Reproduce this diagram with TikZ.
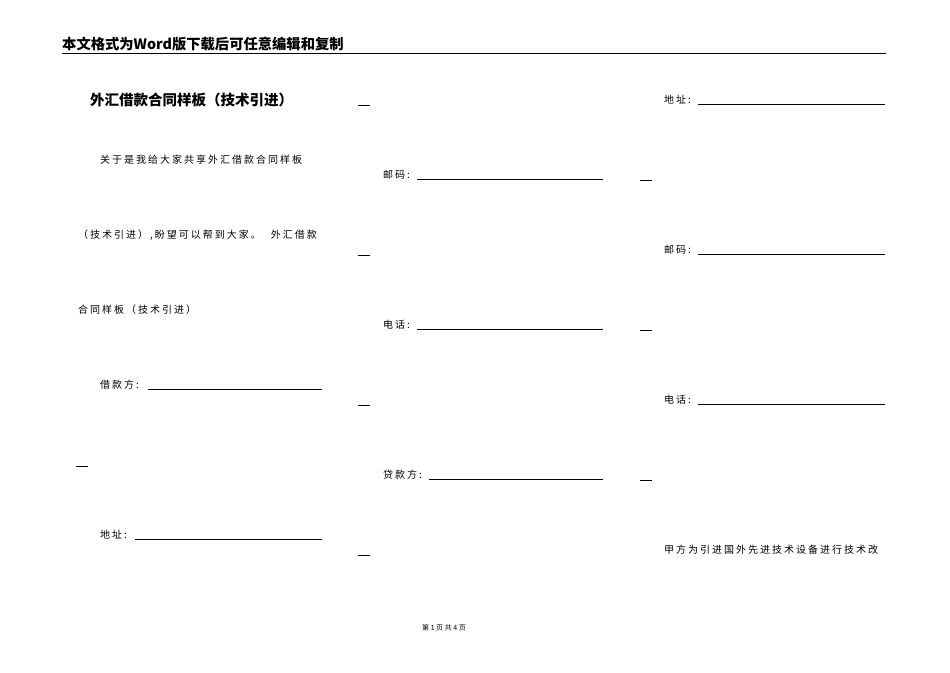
\documentclass[tikz,border=0pt]{standalone}
\usepackage{fontspec}
\newfontfamily\cjk{Noto Sans CJK SC}
\newfontfamily\cjksp[LetterSpace=20]{Noto Sans CJK SC}
\begin{document}
\begin{tikzpicture}[x=1pt,y=-1pt,
  txt/.style={anchor=west,inner sep=0pt,font=\cjksp\fontsize{10}{12}\selectfont},
  uline/.style={line width=0.6pt},
  shortdash/.style={line width=0.6pt}]
\useasboundingbox (0,0) rectangle (950,672);
\node[anchor=west,inner sep=0pt,font=\cjk\bfseries\fontsize{14.3}{16}\selectfont] (hd) at (62,44) {本文格式为Word版下载后可任意编辑和复制};
\draw[line width=0.8pt] (62,53) -- (886,53);
\node[anchor=west,inner sep=0pt,font=\cjk\bfseries\fontsize{14.5}{16}\selectfont] (t) at (90,100) {外汇借款合同样板（技术引进）};
\node[txt] (p1) at (100,160) {关于是我给大家共享外汇借款合同样板};
\node[txt] (p2) at (78,235) {（技术引进）,盼望可以帮到大家。\quad 外汇借款};
\node[txt] (p3) at (78,310) {合同样板（技术引进）};
\node[txt] (a1) at (100,385) {借款方:}; \draw[uline] (148,389)--(322,389);
\draw[shortdash] (76,466)--(88,466);
\node[txt] (a2) at (100,535) {地址:}; \draw[uline] (135,539)--(322,539);
% column 2
\draw[shortdash] (358,105)--(370,105);
\node[txt] (b1) at (383,175) {邮码:}; \draw[uline] (417,179)--(603,179);
\draw[shortdash] (358,255)--(370,255);
\node[txt] (b2) at (383,325) {电话:}; \draw[uline] (417,329)--(603,329);
\draw[shortdash] (358,405)--(370,405);
\node[txt] (b3) at (383,475) {贷款方:}; \draw[uline] (429,479)--(603,479);
\draw[shortdash] (358,555)--(370,555);
% column 3
\node[txt] (c1) at (664,100) {地址:}; \draw[uline] (698,104)--(885,104);
\draw[shortdash] (640,180)--(652,180);
\node[txt] (c2) at (664,250) {邮码:}; \draw[uline] (698,254)--(885,254);
\draw[shortdash] (640,330)--(652,330);
\node[txt] (c3) at (664,400) {电话:}; \draw[uline] (698,404)--(885,404);
\draw[shortdash] (640,480)--(652,480);
\node[txt] (c4) at (664,550) {甲方为引进国外先进技术设备进行技术改};
\node[inner sep=0pt,font=\cjk\fontsize{7}{8}\selectfont] (ft) at (444,628) {第 1 页 共 4 页};
\end{tikzpicture}
\end{document}
